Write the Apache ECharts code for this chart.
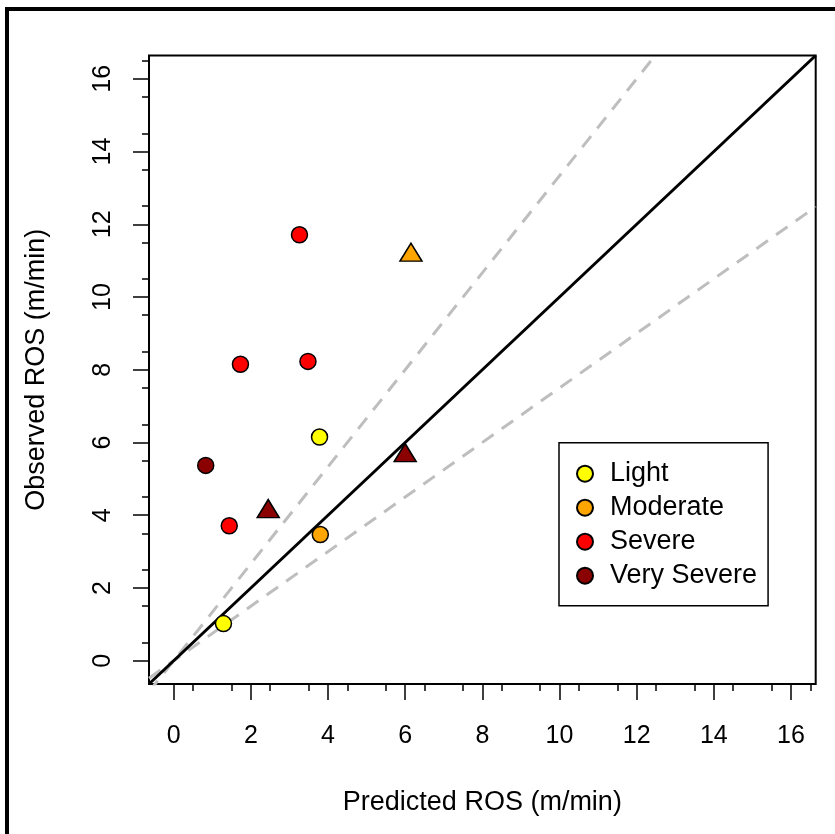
<!DOCTYPE html>
<html>
<head>
<meta charset="utf-8">
<script src="https://cdn.jsdelivr.net/npm/echarts@6/dist/echarts.min.js"></script>
<style>
  html, body { margin: 0; padding: 0; background: #fff; }
  #main { width: 835px; height: 834px; }
</style>
</head>
<body>
<div id="main"></div>
<script>
// 数据
var predicted = [1.29, 3.80, 1.44, 2.45, 0.83, 3.78, 6.00, 1.73, 3.48, 3.26, 6.15];
var observed = [1.02, 3.47, 3.71, 4.10, 5.37, 6.15, 5.64, 8.15, 8.23, 11.71, 11.15];
var severity = ['Light', 'Moderate', 'Severe', 'Very Severe', 'Very Severe', 'Light',
  'Very Severe', 'Severe', 'Severe', 'Severe', 'Moderate'];
var shape = ['circle', 'circle', 'circle', 'triangle', 'circle', 'circle',
  'triangle', 'circle', 'circle', 'circle', 'triangle'];

var classes = ['Light', 'Moderate', 'Severe', 'Very Severe'];
var classColors = ['#ffff00', '#ffa500', '#ff0000', '#8b0000'];

var majorTicks = [0, 2, 4, 6, 8, 10, 12, 14, 16];
var minorTicks = [0.5, 1.5, 2.5, 3.5, 4.5, 5.5, 6.5, 7.5, 8.5, 9.5, 10.5, 11.5, 12.5, 13.5, 14.5, 15.5, 16.5];

// 1:1 线和 ±25% 线的斜率
var oneToOne = 1;
var lowerSlope = 0.75;
var upperSlope = 1 / 0.75;

var axMin = -0.64, axMax = 16.64;
var font = 'Liberation Sans, Arial, sans-serif';

function refLine(slope, dashed) {
  return {
    type: 'line',
    xAxisIndex: 0,
    yAxisIndex: 0,
    data: [[axMin, slope * axMin], [axMax, slope * axMax]],
    showSymbol: false,
    symbol: 'none',
    clip: true,
    silent: true,
    z: 1,
    lineStyle: dashed
      ? { color: '#bebebe', width: 3, type: [14, 10] }
      : { color: '#000', width: 3 }
  };
}

var series = [refLine(lowerSlope, true), refLine(upperSlope, true), refLine(oneToOne, false)];

classes.forEach(function (name, k) {
  var pts = [];
  for (var i = 0; i < predicted.length; i++) {
    if (severity[i] !== name) continue;
    var tri = shape[i] === 'triangle';
    pts.push({
      value: [predicted[i], observed[i]],
      symbol: tri ? 'triangle' : 'circle',
      symbolSize: tri ? [22, 18] : 16,
      symbolOffset: tri ? [0, -3] : [0, 0]
    });
  }
  series.push({
    name: name,
    type: 'scatter',
    xAxisIndex: 0,
    yAxisIndex: 0,
    symbol: 'circle',
    symbolSize: 16,
    z: 5,
    itemStyle: { color: classColors[k], borderColor: '#000', borderWidth: 1.5, opacity: 1 },
    data: pts
  });
});

var tickLine = { color: '#000', width: 1.5 };
var noLine = { show: false, onZero: false };

var chart = echarts.init(document.getElementById('main'));
chart.setOption({
  animation: false,
  backgroundColor: '#fff',
  grid: {
    left: 149, top: 55.5, right: 19.3, bottom: 150,
    show: true, borderColor: '#000', borderWidth: 2, backgroundColor: 'transparent'
  },
  xAxis: [{
    type: 'value', min: axMin, max: axMax, position: 'bottom',
    axisLine: noLine,
    splitLine: { show: false },
    axisTick: { show: true, length: 16, lineStyle: tickLine, customValues: majorTicks },
    axisLabel: { customValues: majorTicks, fontSize: 25, color: '#000', fontFamily: font, margin: 40 },
    name: 'Predicted ROS (m/min)', nameLocation: 'middle', nameGap: 105,
    nameTextStyle: { fontSize: 27, color: '#000', fontFamily: font }
  }, {
    type: 'value', min: axMin, max: axMax, position: 'bottom',
    axisLine: noLine,
    splitLine: { show: false },
    axisTick: { show: true, length: 7, lineStyle: tickLine, customValues: minorTicks },
    axisLabel: { show: false }
  }],
  yAxis: [{
    type: 'value', min: axMin, max: axMax, position: 'left',
    axisLine: noLine,
    splitLine: { show: false },
    axisTick: { show: true, length: 16, lineStyle: tickLine, customValues: majorTicks },
    axisLabel: { customValues: majorTicks, rotate: 90, fontSize: 25, color: '#000', fontFamily: font, margin: 33 },
    name: 'Observed ROS (m/min)', nameLocation: 'middle', nameGap: 99,
    nameTextStyle: { fontSize: 27, color: '#000', fontFamily: font }
  }, {
    type: 'value', min: axMin, max: axMax, position: 'left',
    axisLine: noLine,
    splitLine: { show: false },
    axisTick: { show: true, length: 7, lineStyle: tickLine, customValues: minorTicks },
    axisLabel: { show: false }
  }],
  legend: {
    orient: 'vertical',
    left: 559, top: 442.7,
    data: classes,
    icon: 'circle',
    itemWidth: 16, itemHeight: 16, itemGap: 0,
    padding: [14, 11, 13, 17],
    borderColor: '#000', borderWidth: 1.5,
    selectedMode: false,
    textStyle: { fontSize: 27, color: '#000', fontFamily: font, lineHeight: 34, padding: [0, 0, 0, 12] }
  },
  graphic: [{
    type: 'rect',
    shape: { x: 7, y: 9, width: 1000, height: 1000 },
    style: { fill: 'none', stroke: '#000', lineWidth: 4 },
    silent: true
  }],
  series: series
});
</script>
</body>
</html>
